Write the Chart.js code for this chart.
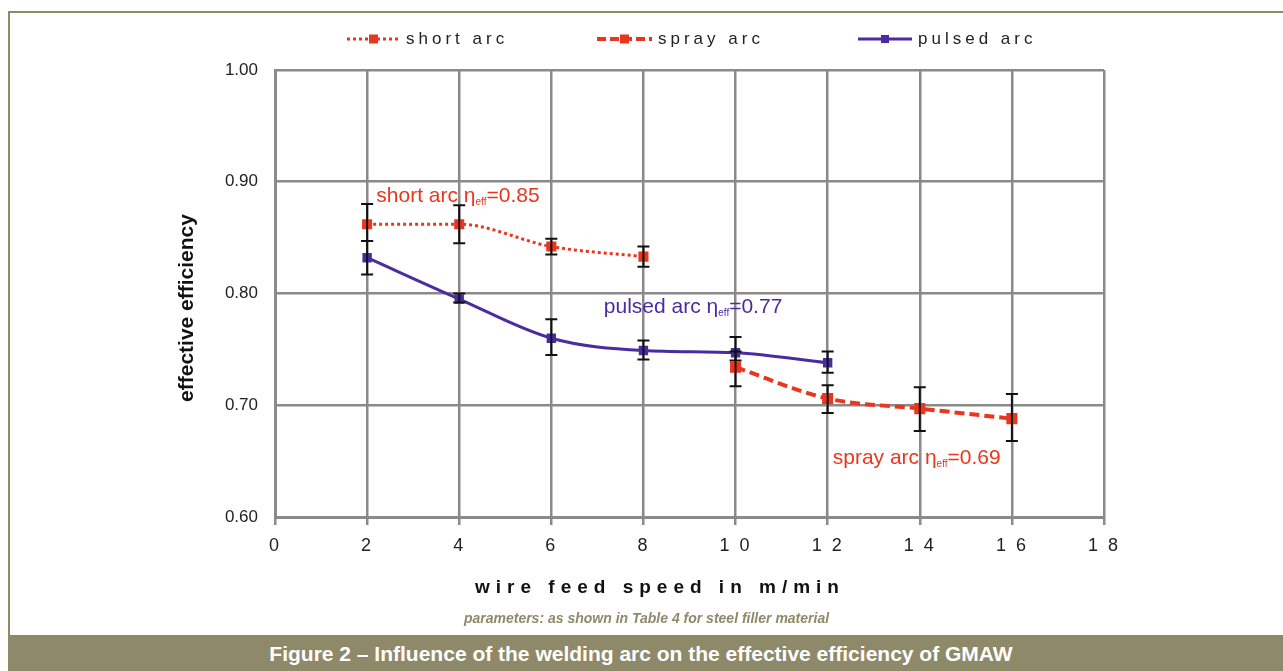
<!DOCTYPE html>
<html>
<head>
<meta charset="utf-8">
<script src="https://cdn.jsdelivr.net/npm/chart.js@4.4.0/dist/chart.umd.min.js"></script>
<style>
  body { margin: 0; background: #fff; font-family: "Liberation Sans", Arial, sans-serif; }
  #page { position: relative; width: 1283px; height: 671px; overflow: hidden; }
  #frame { position: absolute; left: 8px; top: 11px; width: 1290px; height: 640px; border: 2px solid #8e8a69; }
  #wrap { position: absolute; left: 0; top: 0; width: 1283px; height: 634px; }
  #note { position: absolute; left: 0; width: 1293px; top: 610px; text-align: center; font-size: 14px; font-style: italic; font-weight: bold; color: #8e8a69; }
  #band { position: absolute; left: 8px; top: 635px; width: 1290px; height: 36px; background: #8e8a69; }
  #band span { position: absolute; left: 0; width: 1266px; top: 7px; text-align: center; color: #fff; font-weight: bold; font-size: 21px; }
</style>
</head>
<body>
<div id="page">
  <div id="frame"></div>
  <div id="wrap"><canvas id="chart1"></canvas></div>
  <div id="note">parameters: as shown in Table 4 for steel filler material</div>
  <div id="band"><span>Figure 2 – Influence of the welding arc on the effective efficiency of GMAW</span></div>
</div>
<script>
// wire feed speed (m/min) and effective efficiency
var shortX = [2, 4, 6, 8];
var shortY = [0.862, 0.862, 0.842, 0.833];
var shortLo = [0.847, 0.845, 0.835, 0.824];
var shortHi = [0.880, 0.879, 0.849, 0.842];

var sprayX = [10, 12, 14, 16];
var sprayY = [0.734, 0.706, 0.697, 0.688];
var sprayLo = [0.717, 0.693, 0.677, 0.668];
var sprayHi = [0.748, 0.718, 0.716, 0.710];

var pulsedX = [2, 4, 6, 8, 10, 12];
var pulsedY = [0.832, 0.795, 0.760, 0.749, 0.747, 0.738];
var pulsedLo = [0.817, 0.792, 0.745, 0.741, 0.740, 0.729];
var pulsedHi = [0.847, 0.800, 0.777, 0.758, 0.761, 0.748];

var xTicks = [0, 2, 4, 6, 8, 10, 12, 14, 16, 18];
var yTicks = [0.60, 0.70, 0.80, 0.90, 1.00];

var red = '#e8361f';
var purple = '#4a2ca0';
var gridGrey = '#8a8a8a';

function pts(xs, ys) {
  var out = [];
  for (var i = 0; i < xs.length; i++) out.push({ x: xs[i], y: ys[i] });
  return out;
}

var errs = [
  { xs: shortX, lo: shortLo, hi: shortHi },
  { xs: sprayX, lo: sprayLo, hi: sprayHi },
  { xs: pulsedX, lo: pulsedLo, hi: pulsedHi }
];

// error bars, legend, notes, spaced x labels and axis titles
var extras = {
  id: 'extras',
  afterDatasetsDraw: function(chart) {
    var ctx = chart.ctx;
    var xs = chart.scales.x, ys = chart.scales.y;
    ctx.save();
    ctx.strokeStyle = '#111';
    ctx.lineWidth = 2;
    errs.forEach(function(e) {
      for (var i = 0; i < e.xs.length; i++) {
        var px = xs.getPixelForValue(e.xs[i]);
        var a = ys.getPixelForValue(e.lo[i]), b = ys.getPixelForValue(e.hi[i]);
        ctx.beginPath();
        ctx.moveTo(px, a); ctx.lineTo(px, b);
        ctx.moveTo(px - 6, a); ctx.lineTo(px + 6, a);
        ctx.moveTo(px - 6, b); ctx.lineTo(px + 6, b);
        ctx.stroke();
      }
    });
    ctx.restore();
  },
  afterDraw: function(chart) {
    var ctx = chart.ctx;
    var xs = chart.scales.x, ys = chart.scales.y;
    ctx.save();

    // legend
    var items = [
      { x0: 347, x1: 400, color: red, dash: [3, 3], w: 3, ms: 9, text: 'short arc' },
      { x0: 597, x1: 652, color: red, dash: [9, 4], w: 4, ms: 9, text: 'spray arc' },
      { x0: 858, x1: 912, color: purple, dash: [], w: 3, ms: 8, text: 'pulsed arc' }
    ];
    items.forEach(function(it) {
      var y = 39;
      ctx.strokeStyle = it.color;
      ctx.lineWidth = it.w;
      ctx.setLineDash(it.dash);
      ctx.beginPath(); ctx.moveTo(it.x0, y); ctx.lineTo(it.x1, y); ctx.stroke();
      ctx.setLineDash([]);
      ctx.fillStyle = it.color;
      var mx = (it.x0 + it.x1) / 2;
      ctx.fillRect(mx - it.ms / 2, y - it.ms / 2, it.ms, it.ms);
      ctx.fillStyle = '#222';
      ctx.font = '17px "Liberation Sans", Arial, sans-serif';
      ctx.letterSpacing = '4px';
      ctx.textBaseline = 'middle';
      ctx.textAlign = 'left';
      ctx.fillText(it.text, it.x1 + 6, y);
    });

    // x tick labels, letter spaced like the original
    ctx.fillStyle = '#222';
    ctx.font = '18px "Liberation Sans", Arial, sans-serif';
    ctx.letterSpacing = '10px';
    ctx.textAlign = 'center';
    ctx.textBaseline = 'middle';
    xTicks.forEach(function(v) {
      ctx.fillText(String(v), xs.getPixelForValue(v) + 4, 546);
    });

    // x axis title
    ctx.letterSpacing = '6px';
    ctx.font = 'bold 19px "Liberation Sans", Arial, sans-serif';
    ctx.fillStyle = '#111';
    ctx.fillText('wire feed speed in m/min', 660, 588);
    ctx.letterSpacing = '0px';

    // y axis title
    ctx.save();
    ctx.translate(187, 308);
    ctx.rotate(-Math.PI / 2);
    ctx.font = 'bold 21px "Liberation Sans", Arial, sans-serif';
    ctx.fillText('effective efficiency', 0, 0);
    ctx.restore();

    // notes with eta_eff
    function note(xv, yv, pre, post, color) {
      var px = xs.getPixelForValue(xv), py = ys.getPixelForValue(yv);
      ctx.fillStyle = color;
      ctx.textAlign = 'left';
      ctx.textBaseline = 'alphabetic';
      ctx.font = '21px "Liberation Sans", Arial, sans-serif';
      ctx.fillText(pre, px, py);
      px += ctx.measureText(pre).width;
      ctx.font = '10px "Liberation Sans", Arial, sans-serif';
      ctx.fillText('eff', px, py + 3);
      px += ctx.measureText('eff').width;
      ctx.font = '21px "Liberation Sans", Arial, sans-serif';
      ctx.fillText(post, px, py);
    }
    note(2.2, 0.882, 'short arc η', '=0.85', red);
    note(7.14, 0.7826, 'pulsed arc η', '=0.77', purple);
    note(12.11, 0.6474, 'spray arc η', '=0.69', red);

    ctx.restore();
  }
};

new Chart(document.getElementById('chart1'), {
  type: 'line',
  data: {
    datasets: [{
      label: 'short arc',
      data: pts(shortX, shortY),
      borderColor: red,
      backgroundColor: red,
      borderWidth: 3,
      borderDash: [3, 3],
      pointStyle: 'rect',
      pointRadius: 5,
      cubicInterpolationMode: 'monotone'
    }, {
      label: 'spray arc',
      data: pts(sprayX, sprayY),
      borderColor: red,
      backgroundColor: red,
      borderWidth: 4,
      borderDash: [10, 5],
      pointStyle: 'rect',
      pointRadius: 5,
      cubicInterpolationMode: 'monotone'
    }, {
      label: 'pulsed arc',
      data: pts(pulsedX, pulsedY),
      borderColor: purple,
      backgroundColor: purple,
      borderWidth: 3,
      pointStyle: 'rect',
      pointRadius: 4.5,
      cubicInterpolationMode: 'monotone'
    }]
  },
  options: {
    responsive: true,
    maintainAspectRatio: false,
    animation: false,
    events: [],
    layout: { padding: { left: 168, top: 70, right: 179, bottom: 0 } },
    plugins: { legend: { display: false }, tooltip: { enabled: false } },
    scales: {
      x: {
        type: 'linear',
        min: 0, max: 18,
        afterBuildTicks: function(s) { s.ticks = xTicks.map(function(v) { return { value: v }; }); },
        afterFit: function(s) { s.height = 117; },
        grid: { color: gridGrey, lineWidth: 2.5, tickLength: 8, tickColor: gridGrey },
        border: { color: gridGrey, width: 3 },
        ticks: { display: false }
      },
      y: {
        min: 0.6, max: 1.0,
        afterBuildTicks: function(s) { s.ticks = yTicks.map(function(v) { return { value: v }; }); },
        afterFit: function(s) { s.width = 107; },
        grid: { color: gridGrey, lineWidth: 2.5, drawTicks: false },
        border: { color: gridGrey, width: 3 },
        ticks: {
          color: '#222',
          font: { size: 17, family: '"Liberation Sans", Arial' },
          padding: 17,
          callback: function(v) { return v.toFixed(2); }
        }
      }
    }
  },
  plugins: [extras]
});
</script>
</body>
</html>
